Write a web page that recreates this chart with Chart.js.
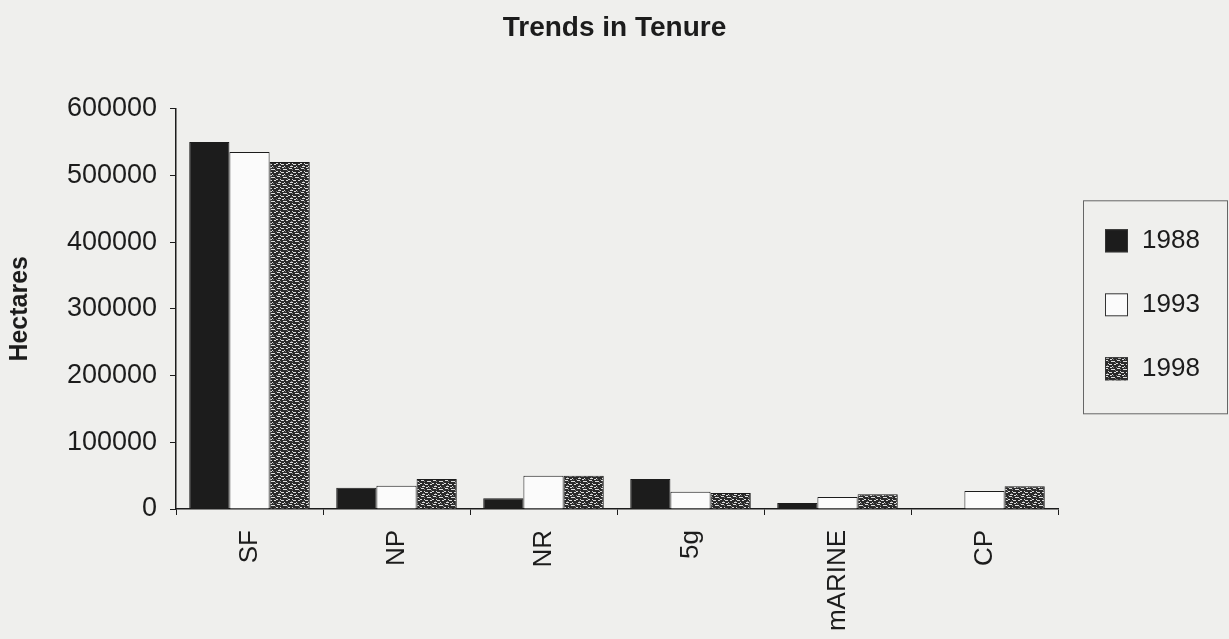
<!DOCTYPE html>
<html>
<head>
<meta charset="utf-8">
<title>Trends in Tenure</title>
<script src="https://cdn.jsdelivr.net/npm/chart.js@4.4.1/dist/chart.umd.min.js"></script>
<style>
  html, body { margin: 0; padding: 0; background: #efefed; }
  #wrap { width: 1229px; height: 639px; position: relative; }
</style>
</head>
<body>
<div id="wrap"><canvas id="chart"></canvas></div>
<script>
// DATA
const categories = ['SF', 'NP', 'NR', '5g', 'mARINE', 'CP'];
const years = ['1988', '1993', '1998'];
const hectares1988 = [550000, 32000, 16000, 45000, 9000, 0];
const hectares1993 = [535000, 35000, 50000, 26000, 18000, 27000];
const hectares1998 = [520000, 45000, 50000, 24000, 22000, 34000];
const yMin = 0, yMax = 600000, yStep = 100000;

const ink = '#1c1c1c';
const canvas = document.getElementById('chart');
const ctx = canvas.getContext('2d');

// speckled fill for the 1998 bars (fixed tile, looks like the scanned hatch)
function speckle() {
  const t = document.createElement('canvas');
  t.width = 12; t.height = 8;
  const g = t.getContext('2d');
  g.fillStyle = '#2a2a2a';
  g.fillRect(0, 0, 12, 8);
  g.fillStyle = '#dcdcdc';
  [[1,0,3],[7,1,4],[0,3,2],[4,3,1],[5,4,3],[10,4,2],[2,6,3],[8,6,1],[6,7,2]]
    .forEach(([x, y, w]) => g.fillRect(x, y, w, 1));
  g.fillStyle = '#7a7a7a';
  [[4,1],[11,2],[3,5],[9,7],[0,7]].forEach(([x, y]) => g.fillRect(x, y, 1, 1));
  return ctx.createPattern(t, 'repeat');
}

const fills = [ink, '#fbfbfb', speckle()];

// LEGEND (boxed, right of the plot)
const boxLegend = {
  id: 'boxLegend',
  afterDraw(chart) {
    const c = chart.ctx, area = chart.chartArea;
    const w = 144, h = 213;
    const x = chart.width - w - 2;
    const y = (area.top + area.bottom) / 2 - h / 2 - 2;
    c.save();
    c.strokeStyle = '#666';
    c.lineWidth = 1;
    c.strokeRect(x + 0.5, y + 0.5, w, h);
    c.font = "26px 'Liberation Sans', Arial, sans-serif";
    c.textBaseline = 'middle';
    c.textAlign = 'left';
    chart.data.datasets.forEach((ds, i) => {
      const cy = y + 40 + i * 64;
      c.fillStyle = ds.backgroundColor;
      c.fillRect(x + 22, cy - 11, 23, 23);
      c.strokeStyle = '#333';
      c.strokeRect(x + 22.5, cy - 10.5, 22, 22);
      c.fillStyle = ink;
      c.fillText(ds.label, x + 59, cy + 1);
    });
    c.restore();
  }
};

Chart.defaults.font.family = "'Liberation Sans', Arial, sans-serif";
Chart.defaults.color = ink;

new Chart(canvas, {
  type: 'bar',
  data: {
    labels: categories,
    datasets: [hectares1988, hectares1993, hectares1998].map((vals, i) => ({
      label: years[i],
      data: vals,
      backgroundColor: fills[i],
      borderColor: ink,
      borderWidth: 1,
      categoryPercentage: 0.82,
      barPercentage: 1
    }))
  },
  options: {
    responsive: true,
    maintainAspectRatio: false,
    animation: false,
    layout: { padding: 0 },
    plugins: {
      legend: { display: false },
      tooltip: { enabled: false },
      title: {
        display: true,
        text: 'Trends in Tenure',
        color: ink,
        font: { size: 28, weight: 'bold', lineHeight: 1.2 },
        padding: { top: 11, bottom: 64 }
      }
    },
    scales: {
      x: {
        offset: true,
        afterFit: s => { s.height = 130; },
        border: { display: true, color: ink, width: 1.5 },
        grid: { drawOnChartArea: false, color: ink, tickLength: 6, offset: true },
        ticks: {
          autoSkip: false, minRotation: 90, maxRotation: 90,
          padding: 15, color: ink, font: { size: 26 }
        }
      },
      y: {
        min: yMin, max: yMax,
        afterFit: s => { s.width = 176; },
        border: { display: true, color: ink, width: 1.5 },
        grid: { drawOnChartArea: false, color: ink, tickLength: 6 },
        ticks: {
          stepSize: yStep, padding: 13, color: ink,
          font: { size: 27 },
          callback: v => String(v)
        },
        title: {
          display: true, text: 'Hectares', color: ink,
          font: { size: 25, weight: 'bold', lineHeight: 1.2 },
          padding: 5
        }
      },
      // empty right-hand strip that leaves room for the boxed legend
      room: {
        position: 'right',
        afterFit: s => { s.width = 171; },
        border: { display: false },
        grid: { display: false },
        ticks: { display: false }
      }
    }
  },
  plugins: [boxLegend]
});
</script>
</body>
</html>
